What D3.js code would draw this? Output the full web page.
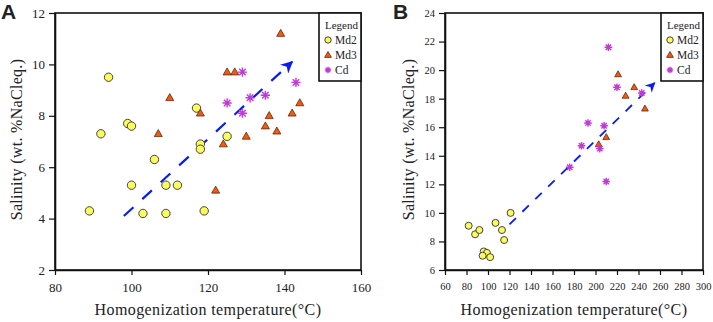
<!DOCTYPE html>
<html>
<head>
<meta charset="utf-8">
<script src="https://cdn.jsdelivr.net/npm/d3@7"></script>
<style>
  body { margin: 0; background: #fff; }
  svg text { font-family: "Liberation Serif", "Times New Roman", Times, "DejaVu Serif", serif; fill: #222; }
</style>
</head>
<body>
<div id="chart"></div>
<script>
// salinity vs homogenization temperature, two panels (A, B)

// panel A data [temperature, salinity]
var md2A = [[89,4.3],[92,7.3],[94,9.5],[99,7.7],[100,7.6],[100,5.3],[103,4.2],[106,6.3],
            [109,5.3],[109,4.2],[112,5.3],[117,8.3],[118,6.9],[118,6.7],[119,4.3],[125,7.2]];
var md3A = [[107,7.3],[110,8.7],[118,8.1],[122,5.1],[124,6.9],[125,9.7],[127,9.7],[130,7.2],
            [135,7.6],[136,8.0],[138,7.4],[139,11.2],[142,8.1],[144,8.5]];
var cdA = [[125,8.5],[129,9.7],[129,8.1],[131,8.7],[135,8.8],[143,9.3]];
var trendA = [[98,4.1],[142,10.1]];
var xTicksA = [80,100,120,140,160];
var yTicksA = [2,4,6,8,10,12];

// panel B data
var md2B = [[82,9.1],[88,8.5],[92,8.8],[96,7.3],[99,7.2],[95,7.0],[102,6.9],[107,9.3],
            [113,8.8],[115,8.1],[121,10.0]];
var md3B = [[203,14.8],[210,15.3],[221,19.7],[228,18.2],[236,18.8],[246,17.3]];
var cdB = [[176,13.2],[187,14.7],[193,16.3],[204,14.5],[208,16.1],[210,12.2],[212,21.6],
           [220,18.8],[243,18.4]];
var trendB = [[120,9.2],[255,19.1]];
var xTicksB = [60,80,100,120,140,160,180,200,220,240,260,280,300];
var yTicksB = [6,8,10,12,14,16,18,20,22,24];

var legendNames = ['Md2', 'Md3', 'Cd'];

var serif = '"Liberation Serif", "Times New Roman", Times, "DejaVu Serif", serif';

var w = 713, h = 322;
var svg = d3.select('#chart').append('svg')
    .attr('width', w).attr('height', h);

svg.append('defs').append('marker')
    .attr('id', 'arrowhead')
    .attr('viewBox', '0 0 10 10')
    .attr('refX', 9).attr('refY', 5)
    .attr('markerWidth', 5.5).attr('markerHeight', 5.5)
    .attr('markerUnits', 'strokeWidth')
    .attr('orient', 'auto')
    .append('path')
    .attr('d', 'M0,0 L10,5 L0,10 L3,5 Z')
    .attr('fill', '#0a1cf0');

function asterisk(s) {
  var d = s * 0.7071;
  return 'M' + (-s) + ',0L' + s + ',0M0,' + (-s) + 'L0,' + s +
         'M' + (-d) + ',' + (-d) + 'L' + d + ',' + d +
         'M' + (-d) + ',' + d + 'L' + d + ',' + (-d);
}

function drawMarker(g, type, x, y, size) {
  if (type === 0) {
    g.append('circle').attr('cx', x).attr('cy', y).attr('r', size)
      .attr('fill', '#fbfb5c').attr('stroke', '#444').attr('stroke-width', 1);
  } else if (type === 1) {
    var s = size;
    g.append('path')
      .attr('d', 'M' + x + ',' + (y - s * 1.05) + 'L' + (x + s) + ',' + (y + s * 0.7) +
                 'L' + (x - s) + ',' + (y + s * 0.7) + 'Z')
      .attr('fill', '#f25a0c').attr('stroke', '#5a2a10').attr('stroke-width', 0.8);
  } else {
    g.append('path').attr('transform', 'translate(' + x + ',' + y + ')')
      .attr('d', asterisk(size))
      .attr('stroke', '#c23ad6').attr('stroke-width', 1.4).attr('fill', 'none');
    g.append('circle').attr('cx', x).attr('cy', y).attr('r', size * 0.35)
      .attr('fill', '#c23ad6');
  }
}

function panel(cfg) {
  var x = d3.scaleLinear().domain(cfg.xDomain).range([cfg.left, cfg.right]);
  var y = d3.scaleLinear().domain(cfg.yDomain).range([cfg.bottom, cfg.top]);
  var g = svg.append('g');

  // frame
  g.append('rect')
    .attr('x', cfg.left).attr('y', cfg.top)
    .attr('width', cfg.right - cfg.left).attr('height', cfg.bottom - cfg.top)
    .attr('fill', 'none').attr('stroke', '#111').attr('stroke-width', 1.6);

  var xAxis = g.append('g')
    .attr('transform', 'translate(0,' + cfg.bottom + ')')
    .call(d3.axisBottom(x).tickValues(cfg.xTicks).tickSize(5).tickSizeOuter(0).tickPadding(8));
  var yAxis = g.append('g')
    .attr('transform', 'translate(' + cfg.left + ',0)')
    .call(d3.axisLeft(y).tickValues(cfg.yTicks).tickSize(6).tickSizeOuter(0).tickPadding(4));
  [xAxis, yAxis].forEach(function(a) {
    a.attr('font-family', null);
    a.select('.domain').attr('stroke', '#111').attr('stroke-width', 1.6);
    a.selectAll('.tick line').attr('stroke', '#111').attr('stroke-width', 1.2);
    a.selectAll('.tick text')
      .style('font-family', serif)
      .attr('font-size', cfg.tickFont).attr('fill', '#222');
  });

  // trend arrow
  g.append('line')
    .attr('x1', x(cfg.trend[0][0])).attr('y1', y(cfg.trend[0][1]))
    .attr('x2', x(cfg.trend[1][0])).attr('y2', y(cfg.trend[1][1]))
    .attr('stroke', '#0a1cf0').attr('stroke-width', cfg.dashWidth)
    .attr('stroke-dasharray', cfg.dash)
    .attr('marker-end', 'url(#arrowhead)');

  // points
  var pts = g.append('g');
  cfg.series.forEach(function(data, i) {
    data.forEach(function(d) {
      drawMarker(pts, i, x(d[0]), y(d[1]), cfg.markSize[i]);
    });
  });

  // legend box, top right corner
  var lg = g.append('g');
  lg.append('rect')
    .attr('x', cfg.right - 42).attr('y', cfg.top)
    .attr('width', 42).attr('height', 68)
    .attr('fill', '#fff').attr('stroke', '#111').attr('stroke-width', 1.6);
  lg.append('text')
    .attr('x', cfg.right - 36).attr('y', cfg.top + 16)
    .style('font-family', serif)
    .attr('font-size', 11).text('Legend');
  legendNames.forEach(function(name, i) {
    var ly = cfg.top + 27 + i * 15;
    drawMarker(lg, i, cfg.right - 33, ly, [3.2, 3.4, 3.2][i]);
    lg.append('text')
      .attr('x', cfg.right - 26).attr('y', ly + 4)
      .style('font-family', serif)
      .attr('font-size', 11.5).text(name);
  });

  // axis titles
  g.append('text')
    .attr('x', (cfg.left + cfg.right) / 2).attr('y', cfg.bottom + 45)
    .attr('text-anchor', 'middle').attr('font-size', 16)
    .style('font-family', serif)
    .attr('letter-spacing', 0.4)
    .text('Homogenization temperature(\u00B0C)');
  g.append('text')
    .attr('transform', 'translate(' + cfg.yTitleX + ',' + ((cfg.top + cfg.bottom) / 2 - 2) + ') rotate(-90)')
    .attr('text-anchor', 'middle').attr('font-size', 16)
    .style('font-family', serif)
    .attr('letter-spacing', 0.3)
    .text('Salinity (wt. %NaCleq.)');

  // panel letter
  g.append('text')
    .attr('x', cfg.letterX).attr('y', 19)
    .style('font-family', '"Liberation Sans", Arial, sans-serif')
    .attr('font-weight', 'bold').attr('font-size', 21).attr('fill', '#000')
    .text(cfg.letter);
}

panel({
  letter: 'A', letterX: 1,
  left: 55, right: 361, top: 13, bottom: 270,
  xDomain: [80, 160], yDomain: [2, 12],
  xTicks: xTicksA, yTicks: yTicksA, tickFont: 13,
  series: [md2A, md3A, cdA], trend: trendA,
  markSize: [4.2, 4.0, 4.6], dash: '13,12', dashWidth: 2.2,
  yTitleX: 22
});

panel({
  letter: 'B', letterX: 393,
  left: 445, right: 703, top: 13, bottom: 270,
  xDomain: [60, 300], yDomain: [6, 24],
  xTicks: xTicksB, yTicks: yTicksB, tickFont: 10.5,
  series: [md2B, md3B, cdB], trend: trendB,
  markSize: [3.5, 3.4, 3.8], dash: '9,9', dashWidth: 1.8,
  yTitleX: 414
});
</script>
</body>
</html>
